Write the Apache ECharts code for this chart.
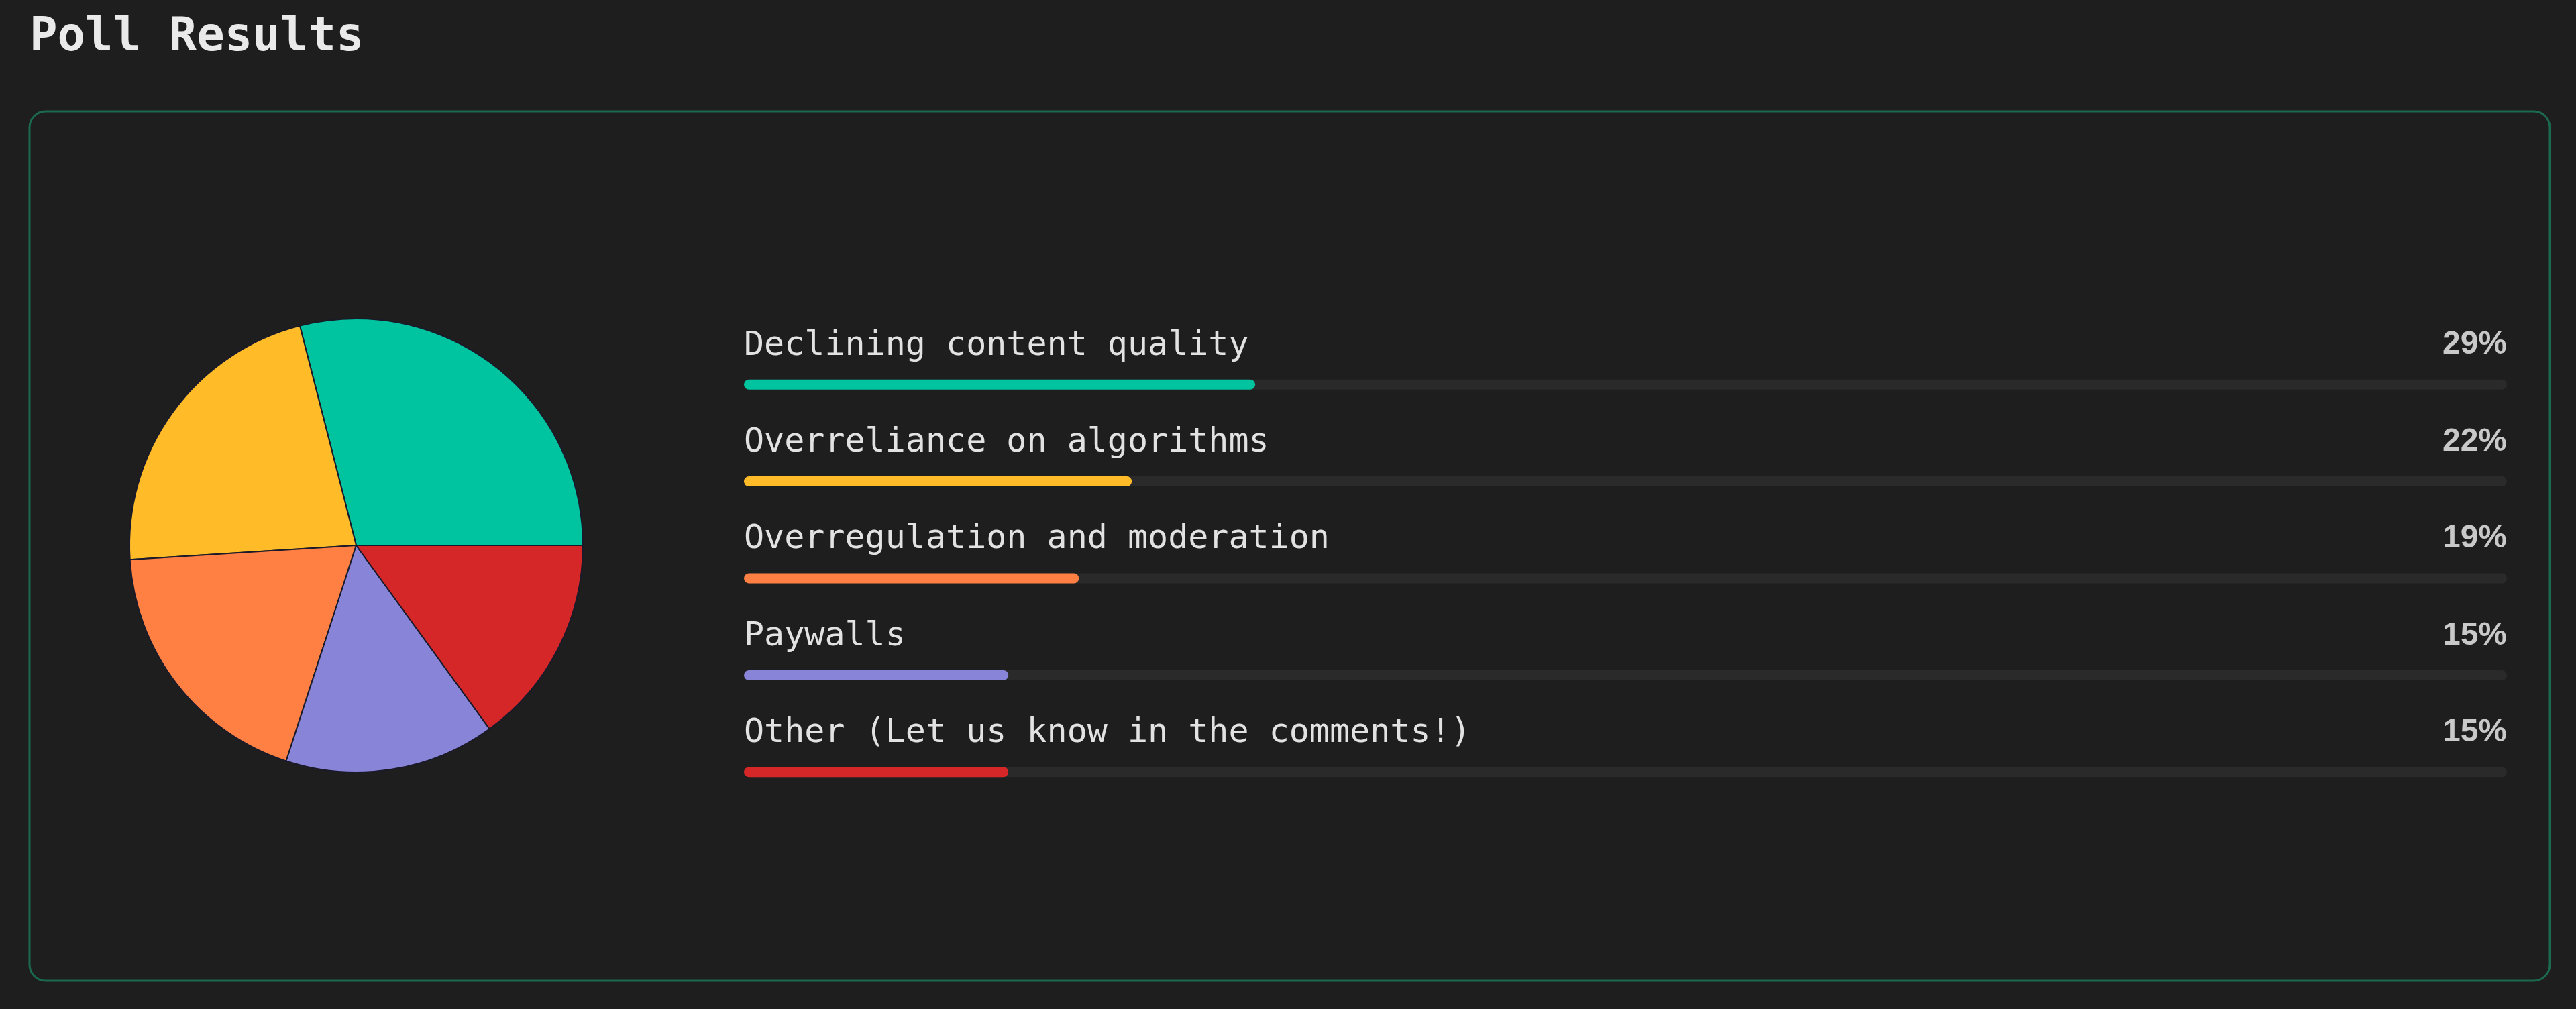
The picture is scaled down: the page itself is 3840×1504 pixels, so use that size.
<!DOCTYPE html>
<html>
<head>
<meta charset="utf-8">
<script src="https://cdn.jsdelivr.net/npm/echarts@6/dist/echarts.min.js"></script>
<style>
html,body{margin:0;padding:0;background:#1e1e1e;}
#chart{width:3840px;height:1504px;}
</style>
</head>
<body>
<div id="chart"></div>
<script>
const titleText = 'Poll Results';
const categories = [
  'Declining content quality',
  'Overreliance on algorithms',
  'Overregulation and moderation',
  'Paywalls',
  'Other (Let us know in the comments!)'
];
const values = [29, 22, 19, 15, 15];
const colors = ['#00c49f', '#ffbb28', '#ff8042', '#8884d8', '#d62728'];

const chart = echarts.init(document.getElementById('chart'));
const monoFont = '"DejaVu Sans Mono", "Liberation Mono", monospace';

chart.setOption({
  backgroundColor: '#1e1e1e',
  animation: false,
  title: {
    text: titleText,
    left: 44,
    top: 23,
    padding: 0,
    textStyle: { color: '#eaeaea', fontFamily: monoFont, fontWeight: 'bold', fontSize: 69 }
  },
  graphic: [{
    type: 'rect',
    shape: { x: 44, y: 166, width: 3757, height: 1296, r: 24 },
    style: { fill: 'none', stroke: '#1b6a4e', lineWidth: 3 },
    silent: true,
    z: -1
  }],
  grid: { left: 1109, right: 103, top: 501, height: 722 },
  xAxis: { type: 'value', min: 0, max: 100, show: false },
  yAxis: { type: 'category', data: categories, inverse: true, show: false },
  series: [
    {
      type: 'pie',
      center: [531, 813],
      radius: 338,
      startAngle: 0,
      clockwise: false,
      label: { show: false },
      labelLine: { show: false },
      itemStyle: { borderColor: '#1a1a2a', borderWidth: 2 },
      data: categories.map((c, i) => ({ name: c, value: values[i], itemStyle: { color: colors[i] } }))
    },
    {
      type: 'bar',
      barWidth: 15,
      showBackground: true,
      backgroundStyle: { color: '#2a2a2a', borderRadius: 8 },
      data: values.map((v, i) => ({ value: v, itemStyle: { color: colors[i], borderRadius: 8 } })),
      label: {
        show: true,
        position: [0, -50],
        align: 'left',
        verticalAlign: 'middle',
        formatter: '{b}',
        color: '#e2e2e2',
        fontFamily: monoFont,
        fontSize: 50
      }
    },
    {
      type: 'scatter',
      symbolSize: 0,
      itemStyle: { color: 'transparent' },
      data: categories.map((c) => [100, c]),
      label: {
        show: true,
        position: 'left',
        distance: 0,
        offset: [0, -59],
        align: 'right',
        verticalAlign: 'middle',
        formatter: (p) => values[p.dataIndex] + '%',
        color: '#f4f4f4',
        fontFamily: '"Liberation Sans", Arial, sans-serif',
        fontWeight: 'bold',
        fontSize: 48
      }
    }
  ]
});
</script>
</body>
</html>
